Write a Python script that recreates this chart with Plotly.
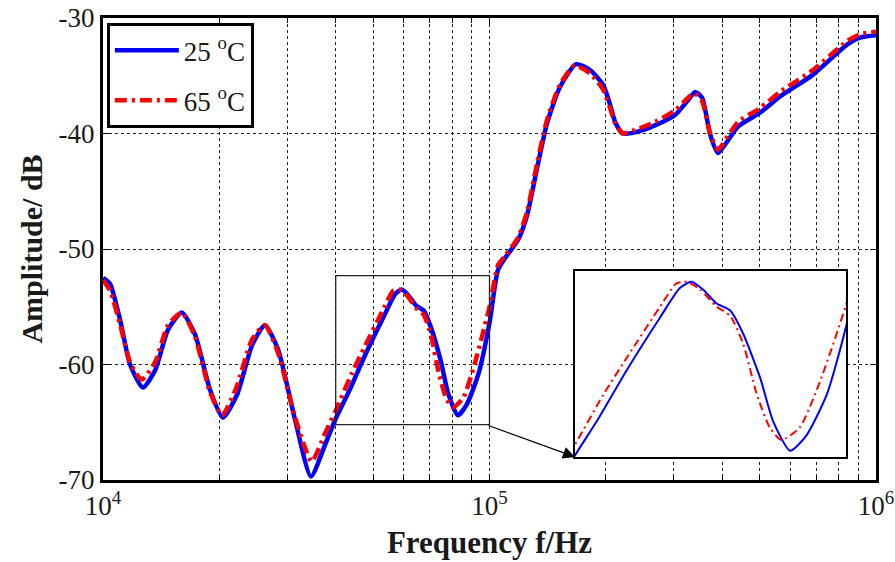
import plotly.graph_objects as go

# ---- data (log10 of frequency in Hz, amplitude in dB) ----
log_f_25 = [4.000, 4.018, 4.044, 4.070, 4.103, 4.135, 4.168, 4.204, 4.238, 4.277,
            4.310, 4.347, 4.386, 4.419, 4.453, 4.497, 4.538, 4.574, 4.602, 4.634,
            4.678, 4.727, 4.756, 4.773, 4.790, 4.810, 4.830, 4.849, 4.874, 4.893,
            4.918, 4.942, 4.972, 5.000, 5.022, 5.040, 5.074, 5.097, 5.123, 5.149,
            5.182, 5.224, 5.260, 5.294, 5.312, 5.325, 5.345, 5.376, 5.428, 5.480,
            5.514, 5.532, 5.550, 5.571, 5.591, 5.617, 5.643, 5.700, 5.752, 5.837,
            5.925, 5.959, 6.000]
amp_25 = [-52.5, -53.0, -56.1, -60.0, -62.0, -60.5, -57.0, -55.5, -57.4, -62.2,
          -64.6, -62.6, -58.3, -56.6, -58.7, -64.8, -69.7, -67.0, -64.7, -62.5,
          -59.2, -55.8, -53.9, -53.5, -54.0, -54.9, -55.35, -56.85, -59.7, -62.5,
          -64.4, -63.4, -60.75, -56.4, -51.8, -50.8, -49.2, -47.1, -43.0, -39.1,
          -36.0, -34.0, -34.5, -35.8, -37.5, -39.0, -40.0, -39.9, -39.3, -38.4,
          -37.1, -36.4, -36.9, -40.1, -41.7, -40.6, -39.4, -38.2, -36.8, -34.9,
          -32.3, -31.7, -31.5]

log_f_65 = [4.000, 4.018, 4.044, 4.070, 4.100, 4.135, 4.168, 4.204, 4.238, 4.277,
            4.308, 4.345, 4.386, 4.419, 4.453, 4.497, 4.540, 4.574, 4.602, 4.644,
            4.678, 4.727, 4.751, 4.766, 4.786, 4.810, 4.830, 4.849, 4.869, 4.888,
            4.905, 4.932, 4.962, 5.000, 5.022, 5.040, 5.074, 5.097, 5.123, 5.149,
            5.182, 5.220, 5.260, 5.294, 5.312, 5.325, 5.345, 5.376, 5.428, 5.480,
            5.514, 5.530, 5.550, 5.571, 5.591, 5.617, 5.643, 5.700, 5.752, 5.837,
            5.925, 5.959, 6.000]
amp_65 = [-52.7, -53.6, -56.5, -59.8, -61.3, -59.8, -56.6, -55.5, -57.6, -62.4,
          -64.4, -62.0, -57.8, -56.6, -59.0, -64.6, -68.4, -66.0, -64.0, -60.75,
          -58.4, -55.1, -53.6, -53.5, -54.0, -55.1, -55.7, -57.5, -60.75, -62.9,
          -63.7, -62.9, -59.9, -55.0, -51.4, -50.6, -49.0, -46.8, -42.6, -38.8,
          -35.8, -34.1, -34.8, -36.2, -37.8, -39.1, -40.0, -39.7, -39.0, -38.0,
          -36.9, -36.5, -37.2, -40.0, -41.4, -40.2, -39.0, -37.8, -36.4, -34.5,
          -32.0, -31.4, -31.2]

series_names = ["25 <sup>o</sup>C", "65 <sup>o</sup>C"]
y_ticks = [-70, -60, -50, -40, -30]
y_tick_labels = ["-70", "-60", "-50", "-40", "-30"]
x_major = [1e4, 1e5, 1e6]
x_major_labels = ["10<sup>4</sup>", "10<sup>5</sup>", "10<sup>6</sup>"]
x_minor = [m * 10 ** d for d in (4, 5) for m in range(2, 10)]

# zoom window (data coordinates)
zoom_x = [4e4, 1e5]
zoom_y = [-65.2, -52.3]
inset_y = [-64.8, -52.8]

f25 = [10 ** v for v in log_f_25]
f65 = [10 ** v for v in log_f_65]

FONT = "Liberation Serif"
TXT = "#1a1a1a"
BLUE = "#0000ff"
RED = "#ff0000"
DASH = "12px,5px,3px,5px"

fig = go.Figure()
fig.add_trace(go.Scatter(x=f25, y=amp_25, mode="lines", name=series_names[0],
                         legendgroup="a",
                         line=dict(color=BLUE, width=4.5, shape="spline", smoothing=0.6)))
fig.add_trace(go.Scatter(x=f65, y=amp_65, mode="lines", name=series_names[1],
                         legendgroup="b",
                         line=dict(color=RED, width=4.5, dash=DASH, shape="spline", smoothing=0.6)))
# inset
fig.add_trace(go.Scatter(x=f25, y=amp_25, mode="lines", showlegend=False,
                         xaxis="x2", yaxis="y2",
                         line=dict(color=BLUE, width=2, shape="spline", smoothing=0.6)))
fig.add_trace(go.Scatter(x=f65, y=amp_65, mode="lines", showlegend=False,
                         xaxis="x2", yaxis="y2",
                         line=dict(color=RED, width=2, dash="8px,4px,2px,4px", shape="spline", smoothing=0.6)))

grid = dict(showgrid=True, gridcolor="#222222", griddash="dot", gridwidth=1)

fig.update_layout(
    width=895, height=562,
    margin=dict(l=103, r=19, t=18, b=82),
    plot_bgcolor="white", paper_bgcolor="white",
    font=dict(family=FONT, color=TXT, size=26),
    xaxis=dict(type="log", range=[4, 6], tickvals=x_major, ticktext=x_major_labels,
               showline=True, linecolor="black", linewidth=3, mirror="ticks",
               ticks="inside", ticklen=6, tickcolor="black",
               tickfont=dict(size=27), ticklabeloverflow="allow",
               minor=dict(tickvals=x_minor, ticks="inside", ticklen=5, tickcolor="black",
                          showgrid=True, gridcolor="#222222", griddash="dot", gridwidth=1),
               title=dict(text="<b>Frequency f/Hz</b>", font=dict(size=31), standoff=11),
               zeroline=False, automargin=False, **grid),
    yaxis=dict(range=[-70, -30], tickvals=y_ticks, ticktext=y_tick_labels,
               showline=True, linecolor="black", linewidth=3, mirror="ticks",
               ticks="inside", ticklen=6, tickcolor="black",
               tickfont=dict(size=27), ticklabeloverflow="allow",
               title=dict(text="<b>Amplitude/ dB</b>", font=dict(size=30), standoff=8),
               zeroline=False, automargin=False, **grid),
    xaxis2=dict(type="log", range=[4.60206, 5.0], domain=[0.6106, 0.9612], anchor="y2",
                showticklabels=False, showgrid=False, ticks="", showline=True,
                linecolor="black", linewidth=2, mirror=True, zeroline=False),
    yaxis2=dict(range=inset_y, domain=[0.0498, 0.4524], anchor="x2",
                showticklabels=False, showgrid=False, ticks="", showline=True,
                linecolor="black", linewidth=2, mirror=True, zeroline=False),
    legend=dict(x=0.005, y=0.989, xanchor="left", yanchor="top",
                bgcolor="white", bordercolor="black", borderwidth=3,
                font=dict(size=27, family=FONT, color=TXT),
                itemwidth=64, tracegroupgap=12),
    shapes=[
        dict(type="rect", xref="x", yref="y", x0=zoom_x[0], x1=zoom_x[1],
             y0=zoom_y[0], y1=zoom_y[1], line=dict(color="#222222", width=1.3),
             fillcolor="rgba(0,0,0,0)", layer="above"),
    ],
    annotations=[
        dict(xref="x2 domain", yref="y2 domain", x=0, y=0, axref="pixel", ayref="pixel",
             ax=-88, ay=-32, showarrow=True, arrowhead=2, arrowsize=2, arrowwidth=1.2,
             arrowcolor="black", text=""),
    ],
)

fig.write_html("out.html", config={"displayModeBar": False},
               post_script="document.body.style.margin='0';document.body.style.overflow='hidden';")
